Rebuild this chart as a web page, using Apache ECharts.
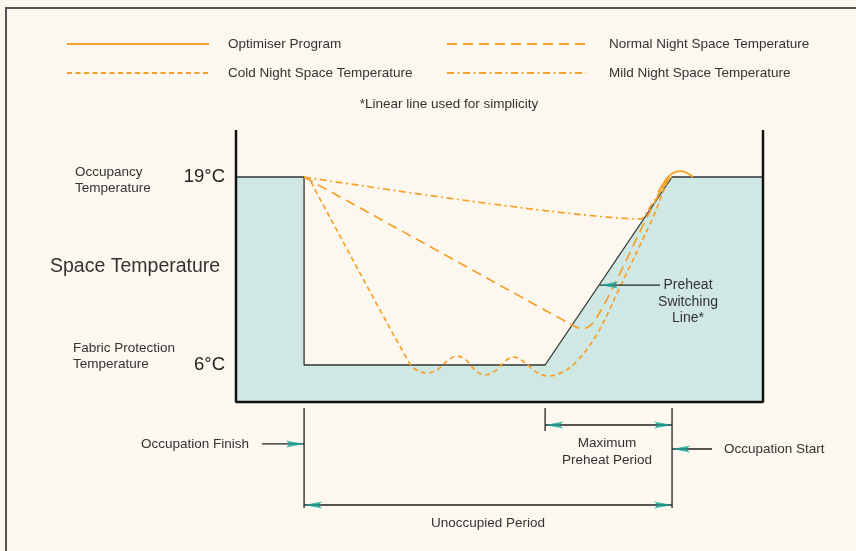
<!DOCTYPE html>
<html>
<head>
<meta charset="utf-8">
<script src="https://cdn.jsdelivr.net/npm/echarts@6/dist/echarts.min.js"></script>
<style>
html,body{margin:0;padding:0;background:#fdf8ef;}
#chart{width:856px;height:551px;}
</style>
</head>
<body>
<div id="chart"></div>
<script>
// ---- data (x: hour of day, y: space temperature °C) ----
const occupancyTemp = 19;
const protectionTemp = 6;
const occFinish = 18;
const preheatStart = 27.17;
const occStart = 32;
const plotLeft = 15.41, plotRight = 35.46, plotBottom = 3.44, plotTop = 22.25;
const yTickValues = [6, 19];

const switchingEnvelope = [[plotLeft,19],[18,19],[18,6],[27.17,6],[32,19],[plotRight,19]];

const coldNight = [[18.00,19.00],[18.23,18.72],[18.46,17.96],[22.03,6.07],[22.33,5.59],[22.68,5.45],
  [23.06,5.65],[23.44,6.28],[23.82,6.62],[24.16,6.35],[24.54,5.59],[24.89,5.31],[25.27,5.59],
  [25.65,6.28],[25.99,6.55],[26.37,6.21],[26.83,5.52],[27.29,5.24],[27.85,5.52],[28.39,6.28],
  [29.15,8.14],[30.02,11.39],[31.28,16.23],[31.85,18.79],[32.00,19.00]];
const normalNight = [[18.00,19.00],[28.12,8.84],[28.35,8.63],[28.58,8.49],[28.99,8.90],
  [29.76,11.39],[31.05,16.23],[31.81,18.79],[32.00,19.00]];
const mildNight = [[18.00,19.00],[30.82,16.10],[31.16,16.93],[31.54,17.96],[31.85,18.86],[32.00,19.00]];
const optimiser = [[31.47,17.96],[31.66,18.52],[31.81,18.93],[32.04,19.28],[32.30,19.41],[32.57,19.28],[32.80,19.00]];

// dimension lines [x1, y1, x2, y2]
const dimLines = [
  [occFinish, 3.03, occFinish, -3.89],
  [occStart, 3.03, occStart, -3.89],
  [preheatStart, 3.03, preheatStart, 1.44],
  [preheatStart, 1.85, occStart, 1.85],
  [occFinish, -3.68, occStart, -3.68],
  [16.40, 0.54, occFinish, 0.54],
  [33.52, 0.19, occStart, 0.19],
  [31.54, 11.53, 29.26, 11.53]
];
const arrowsRight = [[occFinish,0.54],[occStart,1.85],[occStart,-3.68]];
const arrowsLeft = [[preheatStart,1.85],[occFinish,-3.68],[occStart,0.19],[29.26,11.53]];

const legendNames = ['Optimiser Program','Normal Night Space Temperature','Cold Night Space Temperature','Mild Night Space Temperature'];

// ---- styles ----
const ORANGE = '#f5a02a';
const TEAL = '#17a596';
const FILL = '#cfe8e4';
const TXT = '#333';
const FONT = '"Liberation Sans", Arial, Helvetica, sans-serif';

const chart = echarts.init(document.getElementById('chart'), null, {renderer:'canvas'});

const series = [];
series.push({
  type:'line', data: switchingEnvelope, symbol:'none', silent:true,
  lineStyle:{color:'#333', width:1.3},
  areaStyle:{color:FILL, opacity:1, origin: plotBottom}, z:1
});
series.push({
  type:'line', data:[[plotLeft,plotTop],[plotLeft,plotBottom],[plotRight,plotBottom],[plotRight,plotTop]],
  symbol:'none', silent:true, lineStyle:{color:'#111', width:2.5}, z:5
});
series.push({name:legendNames[2], type:'line', data:coldNight, symbol:'none', smooth:0.35,
  lineStyle:{color:ORANGE, width:1.7, type:[5,3.5]}, itemStyle:{color:ORANGE}, z:3});
series.push({name:legendNames[1], type:'line', data:normalNight, symbol:'none', smooth:0.3,
  lineStyle:{color:ORANGE, width:1.7, type:[10,6]}, itemStyle:{color:ORANGE}, z:3});
series.push({name:legendNames[3], type:'line', data:mildNight, symbol:'none', smooth:0.2,
  lineStyle:{color:ORANGE, width:1.7, type:[7,3.5,2,3.5]}, itemStyle:{color:ORANGE}, z:3});
series.push({name:legendNames[0], type:'line', data:optimiser, symbol:'none', smooth:0.5,
  lineStyle:{color:ORANGE, width:1.8}, itemStyle:{color:ORANGE}, z:4});

dimLines.forEach(d => {
  series.push({type:'line', data:[[d[0],d[1]],[d[2],d[3]]], symbol:'none', silent:true,
    lineStyle:{color:'#222', width:1.3}, z:4});
});
series.push({type:'scatter', data:arrowsRight, symbol:'path://M0,0L16,3L0,6L3,3Z', symbolSize:[18,7],
  symbolOffset:[-9,0], itemStyle:{color:TEAL}, silent:true, z:6});
series.push({type:'scatter', data:arrowsLeft, symbol:'path://M16,0L0,3L16,6L13,3Z', symbolSize:[18,7],
  symbolOffset:[9,0], itemStyle:{color:TEAL}, silent:true, z:6});

function mkLegend(name, left, top, w, pad){
  return {data:[name], left:left, top:top, padding:0, itemWidth:w, itemHeight:14, selectedMode:false,
    itemStyle:{color:'rgba(0,0,0,0)', borderWidth:0, opacity:0},
    textStyle:{color:TXT, fontSize:13.5, fontFamily:FONT, padding:[0,0,0,pad]}};
}

function txt(text, x, y, size, align, lh){
  return {type:'text', x:x, y:y, silent:true, z:100,
    style:{text:text, fill:TXT, fontSize:size, fontFamily:FONT, align:align||'left', verticalAlign:'middle', lineHeight:lh||size*1.2}};
}

const option = {
  backgroundColor:'#fdf8ef',
  animation:false,
  grid:{left:236, right:93, top:130, bottom:26.92},
  xAxis:{type:'value', min:plotLeft, max:plotRight, show:false},
  yAxis:{type:'value', min:-5, max:plotTop,
    axisLine:{show:false}, axisTick:{show:false}, splitLine:{show:false},
    axisLabel:{customValues:yTickValues, formatter:'{value}°C', fontSize:18.5, color:'#222', fontFamily:FONT, margin:11}},
  legend:[
    mkLegend(legendNames[0], 66, 37, 142, 14),
    mkLegend(legendNames[1], 446, 37, 139, 18),
    mkLegend(legendNames[2], 66, 66, 142, 14),
    mkLegend(legendNames[3], 446, 66, 139, 18)
  ],
  graphic:[
    {type:'rect', shape:{x:6, y:8, width:900, height:600}, style:{fill:'none', stroke:'#555', lineWidth:2}, silent:true, z:100},
    txt('*Linear line used for simplicity', 449, 104, 13.5, 'center'),
    txt('Occupancy\nTemperature', 75, 180, 13.5, 'left', 16),
    txt('Space Temperature', 50, 267, 19.5, 'left'),
    txt('Fabric Protection\nTemperature', 73, 356, 13.5, 'left', 16),
    txt('Preheat\nSwitching\nLine*', 688, 302, 14, 'center', 16.5),
    txt('Occupation Finish', 141, 444, 13.5, 'left'),
    txt('Occupation Start', 724, 449, 13.5, 'left'),
    txt('Maximum\nPreheat Period', 607, 451.5, 13.5, 'center', 17),
    txt('Unoccupied Period', 488, 523, 13.5, 'center')
  ],
  series:series
};
chart.setOption(option);
</script>
</body>
</html>
